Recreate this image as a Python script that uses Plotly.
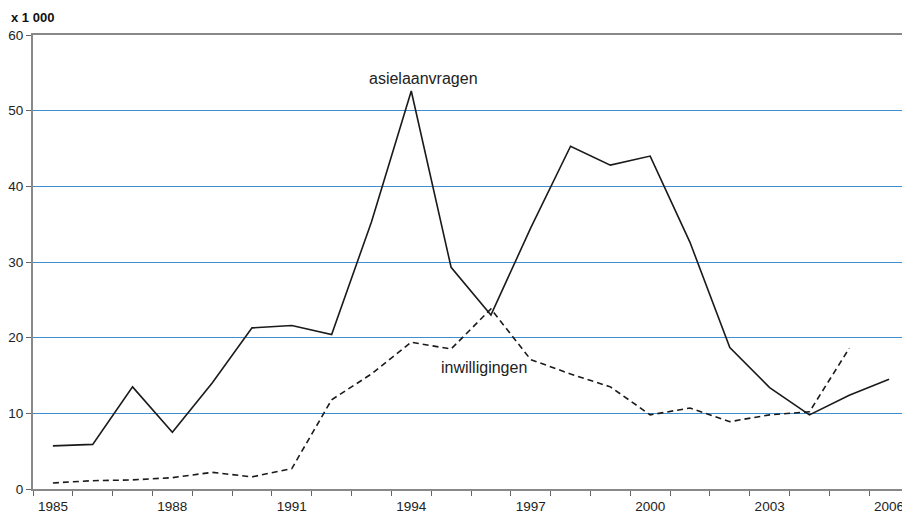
import plotly.graph_objects as go

years = [str(y) for y in range(1985, 2007)]
asielaanvragen = [5.7, 5.9, 13.5, 7.5, 14.0, 21.3, 21.6, 20.4, 35.3, 52.6, 29.3, 23.0,
                  34.5, 45.3, 42.8, 44.0, 32.6, 18.7, 13.4, 9.8, 12.4, 14.5]
inwilligingen = [0.8, 1.1, 1.2, 1.5, 2.2, 1.6, 2.7, 11.8, 15.2, 19.4, 18.5, 23.8,
                 17.1, 15.2, 13.5, 9.8, 10.7, 8.9, 9.8, 10.2, 18.6]
y_ticks = [0, 10, 20, 30, 40, 50, 60]
tick_labels = ["1985", "1988", "1991", "1994", "1997", "2000", "2003", "2006"]
tick_text = [y if y in tick_labels else "" for y in years]

fig = go.Figure()
fig.add_trace(go.Scatter(x=years, y=asielaanvragen, mode="lines",
                         line=dict(color="#1a1a1a", width=1.6), showlegend=False))
fig.add_trace(go.Scatter(x=years[:len(inwilligingen)], y=inwilligingen, mode="lines",
                         line=dict(color="#1a1a1a", width=1.6, dash="6px,4px"), showlegend=False))

fig.add_annotation(x=9.3, y=52.9, text="asielaanvragen", showarrow=False,
                   yanchor="bottom", xanchor="center",
                   font=dict(family="Arial, Liberation Sans", size=16, color="#222"))
fig.add_annotation(x=10.83, y=16.0, text="inwilligingen", showarrow=False,
                   yanchor="middle", xanchor="center",
                   font=dict(family="Arial, Liberation Sans", size=16, color="#222"))
fig.add_annotation(x=0, xref="paper", xanchor="left", xshift=-24,
                   y=1, yref="paper", yanchor="top", yshift=27,
                   text="<b>x 1 000</b>", showarrow=False,
                   font=dict(family="Arial, Liberation Sans", size=13, color="#111"))

# page body has an 8px default margin; compensate so the plot area lands
# at x 33..909, y 35..489 of the window
fig.update_layout(
    width=902, height=511,
    margin=dict(l=25, r=1, t=27, b=30, autoexpand=False),
    paper_bgcolor="white", plot_bgcolor="white",
    font=dict(family="Arial, Liberation Sans", size=13.5, color="#222"),
)
fig.update_xaxes(type="category", categoryorder="array", categoryarray=years,
                 tickmode="array", tickvals=years, ticktext=tick_text,
                 showgrid=False, showline=True, linecolor="#888", linewidth=2,
                 mirror=True, ticks="outside", tickson="boundaries", ticklen=5,
                 tickcolor="#666", tickwidth=1, range=[-0.5, 21.5], automargin=False,
                 ticklabelstandoff=4)
fig.update_yaxes(range=[0, 60], tickvals=y_ticks, showgrid=True, gridcolor="#3d8fd1",
                 gridwidth=1, showline=True, linecolor="#888", linewidth=2,
                 mirror=True, ticks="outside", ticklen=5, tickcolor="#666",
                 zeroline=False, automargin=False)

fig.write_html("out.html")
